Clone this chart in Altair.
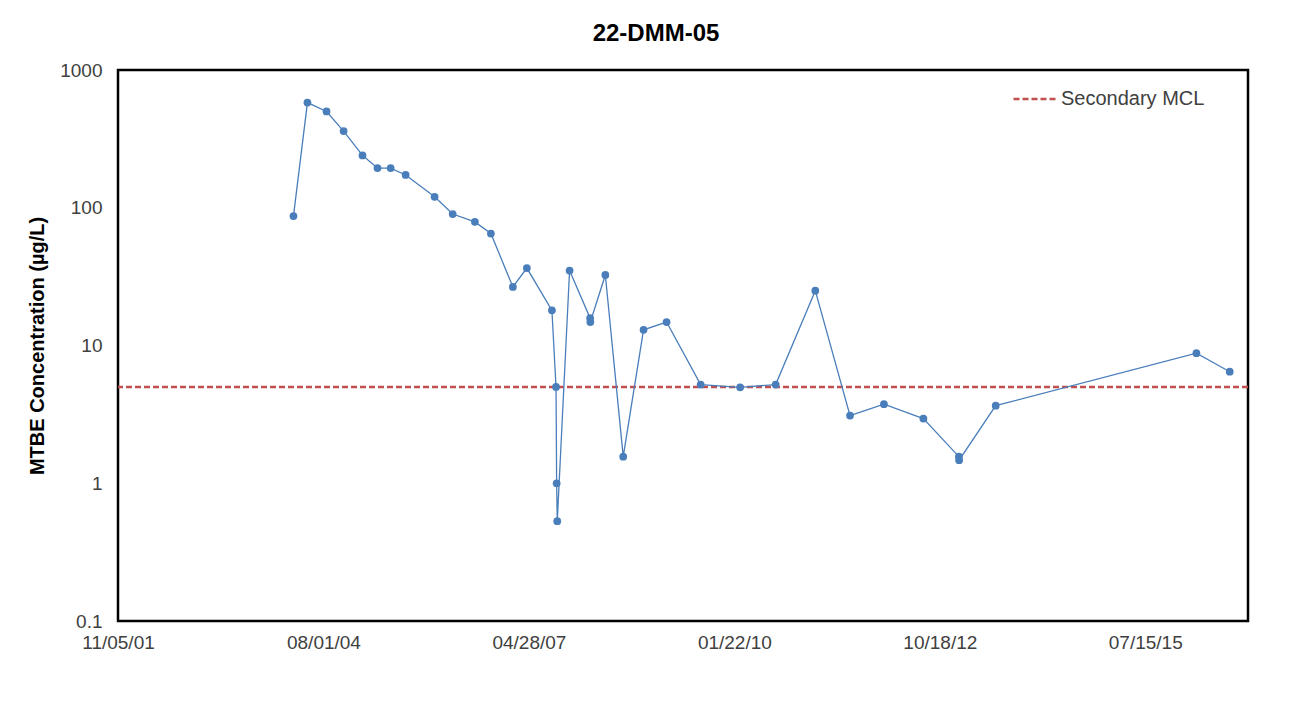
import altair as alt
import pandas as pd
from datetime import date

# ---- data ----
sample_dates = [
    "2004-03-08", "2004-05-15", "2004-08-16", "2004-11-07", "2005-02-07",
    "2005-04-21", "2005-06-24", "2005-09-05", "2006-01-24", "2006-04-22",
    "2006-08-08", "2006-10-25", "2007-02-09", "2007-04-18", "2007-08-18",
    "2007-09-07", "2007-09-10", "2007-09-13", "2007-11-12", "2008-02-20",
    "2008-02-21", "2008-05-04", "2008-07-30", "2008-11-06", "2009-02-26",
    "2009-08-11", "2010-02-19", "2010-08-11", "2011-02-20", "2011-08-08",
    "2012-01-20", "2012-07-30", "2013-01-19", "2013-01-20", "2013-07-17",
    "2016-03-20", "2016-08-29",
]
mtbe_values = [
    87, 580, 500, 360, 240,
    194, 194, 173, 120, 90,
    79, 65, 26.6, 36.5, 18,
    5.0, 1.0, 0.53, 35, 15.8,
    14.8, 32.5, 1.56, 13, 14.8,
    5.2, 4.97, 5.2, 25, 3.1,
    3.75, 2.95, 1.56, 1.47, 3.66,
    8.8, 6.45,
]
x_tick_dates = ["2001-11-05", "2004-08-01", "2007-04-28", "2010-01-22", "2012-10-18", "2015-07-15"]
x_domain = ["2001-11-05", "2016-11-26"]
y_ticks = [0.1, 1, 10, 100, 1000]
mcl_value = [5]
mcl_label = ["Secondary MCL"]

FONT = "Liberation Sans"
BLUE = "#4A7EBB"
RED = "#C0504D"
TXT = "#404040"


def to_dt(s):
    d = date.fromisoformat(s)
    return alt.DateTime(year=d.year, month=d.month, date=d.day, utc=True)


df = pd.DataFrame({"date": sample_dates, "value": mtbe_values})
mcl_df = pd.DataFrame({"mcl": mcl_value, "series": mcl_label})

x_enc = alt.X(
    "date:T",
    scale=alt.Scale(type="utc", domain=[to_dt(s) for s in x_domain], nice=False),
    axis=alt.Axis(
        values=[to_dt(s) for s in x_tick_dates],
        labelExpr="utcFormat(datum.value, '%m/%d/%y')",
        title=None,
        grid=False,
        ticks=False,
        domain=False,
        labelFont=FONT,
        labelFontSize=19,
        labelColor=TXT,
        labelPadding=12,
        labelFlush=False,
        labelOverlap=False,
    ),
)

y_scale = alt.Scale(type="log", domain=[0.1, 1000], nice=False)
y_axis = alt.Axis(
    values=y_ticks,
    format="~g",
    title="MTBE Concentration (µg/L)",
    titleFont=FONT,
    titleFontSize=20,
    titleFontWeight="bold",
    titleColor="#000000",
    titlePadding=12,
    grid=False,
    ticks=False,
    domain=False,
    labelFont=FONT,
    labelFontSize=19,
    labelColor=TXT,
    labelPadding=16,
    labelFlush=False,
    labelOverlap=False,
)

rule = alt.Chart(mcl_df).mark_rule(strokeDash=[6, 3], strokeWidth=2.5).encode(
    y=alt.Y("mcl:Q", scale=y_scale, axis=y_axis),
    color=alt.Color(
        "series:N",
        scale=alt.Scale(domain=mcl_label, range=[RED]),
        legend=alt.Legend(
            title=None,
            orient="none",
            legendX=894,
            legendY=5,
            padding=0,
            symbolType="stroke",
            symbolSize=2025,
            symbolStrokeWidth=2.5,
            symbolDash=[6, 3],
            labelFont=FONT,
            labelFontSize=20,
            labelColor=TXT,
            labelOffset=1,
        ),
    ),
)

line = alt.Chart(df).mark_line(color=BLUE, strokeWidth=1.3).encode(
    x=x_enc,
    y=alt.Y("value:Q", scale=y_scale, axis=y_axis),
)

pts = alt.Chart(df).mark_circle(color=BLUE, size=60, opacity=1).encode(
    x=x_enc,
    y=alt.Y("value:Q", scale=y_scale, axis=y_axis),
)

chart = (
    alt.layer(rule, line, pts)
    .properties(
        width=1130,
        height=551,
        padding={"left": 110, "top": 62, "right": 52, "bottom": 79},
        autosize=alt.AutoSizeParams(type="none"),
        background="#ffffff",
        title=alt.TitleParams(
            "22-DMM-05",
            font=FONT,
            fontSize=24,
            fontWeight="bold",
            color="#000000",
            anchor="middle",
            dx=-27,
            offset=15,
        ),
    )
    .configure_view(stroke="#000000", strokeWidth=2.5)
)

chart.save("out.html", embed_options={"renderer": "svg", "actions": False})
